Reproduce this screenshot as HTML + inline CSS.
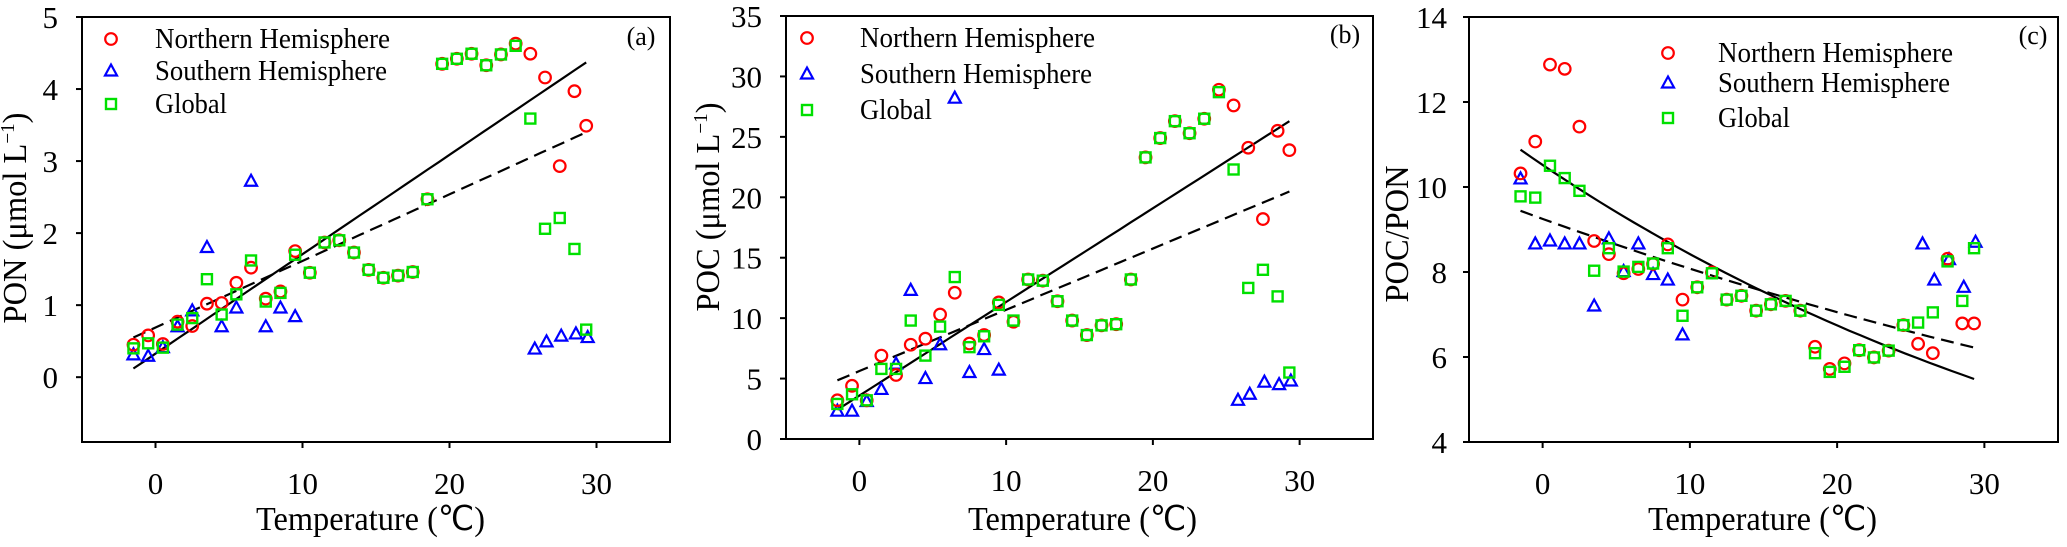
<!DOCTYPE html>
<html><head><meta charset="utf-8"><style>
html,body{margin:0;padding:0;background:#fff;}
svg, svg text{font-family:"Liberation Serif","Times New Roman",Times,serif;}
</style></head><body>
<svg id="fig" width="2067" height="542" viewBox="0 0 2067 542" xmlns="http://www.w3.org/2000/svg" font-family="'Liberation Serif', 'Times New Roman', serif">
<rect x="0" y="0" width="2067" height="542" fill="#fff"/>
</svg>
<script>
// ---- shared temperature categories ----
const tempsFull = [-1.5,-0.5,0.5,1.5,2.5,3.5,4.5,5.5,6.5,7.5,8.5,9.5,10.5,11.5,12.5,13.5,14.5,15.5,16.5,17.5,18.5,19.5,20.5,21.5,22.5,23.5,24.5,25.5,26.5,27.5,28.5,29.3];
const tempsSouth = [-1.5,-0.5,0.5,1.5,2.5,3.5,4.5,5.5,6.5,7.5,8.5,9.5,25.8,26.6,27.6,28.6,29.4];
const xTicks = [0,10,20,30];

// ---- panel a: PON ----
const ponNorth = [0.45,0.58,0.46,0.77,0.71,1.02,1.03,1.31,1.52,1.09,1.19,1.75,1.45,1.87,1.90,1.73,1.49,1.38,1.41,1.46,2.47,4.35,4.42,4.49,4.33,4.48,4.63,4.49,4.16,2.93,3.97,3.49];
const ponGlobal = [0.40,0.47,0.41,0.73,0.82,1.36,0.87,1.15,1.62,1.05,1.17,1.70,1.45,1.87,1.90,1.73,1.49,1.38,1.41,1.46,2.47,4.35,4.42,4.49,4.33,4.48,4.60,3.59,2.06,2.21,1.78,0.66];
const ponSouth = [0.31,0.29,0.41,0.70,0.92,1.80,0.70,0.96,2.72,0.70,0.96,0.84,0.39,0.49,0.57,0.60,0.55];
const ponYTicks = [0,1,2,3,4,5];
const ponFitSolid = [0.327,0.138];   // intercept, slope
const ponFitDashed = [0.689,0.0925];

// ---- panel b: POC ----
const pocNorth = [3.2,4.4,3.2,6.9,5.3,7.8,8.3,10.3,12.1,7.9,8.6,11.3,9.7,13.2,13.1,11.4,9.8,8.6,9.4,9.5,13.2,23.3,24.9,26.3,25.3,26.5,28.9,27.6,24.1,18.2,25.5,23.9];
const pocGlobal = [2.9,3.7,3.2,5.8,5.8,9.8,6.9,9.3,13.4,7.6,8.5,11.1,9.8,13.2,13.1,11.4,9.8,8.6,9.4,9.5,13.2,23.3,24.9,26.3,25.3,26.5,28.7,22.3,12.5,14.0,11.8,5.5];
const pocSouth = [2.3,2.3,3.1,4.1,6.2,12.3,5.0,7.8,28.2,5.5,7.4,5.7,3.2,3.7,4.7,4.5,4.8];
const pocYTicks = [0,5,10,15,20,25,30,35];
const pocFitSolid = [3.59,0.775];
const pocFitDashed = [5.62,0.507];

// ---- panel c: POC/PON ----
const ratioNorth = [10.32,11.07,12.88,12.78,11.42,8.73,8.42,7.97,8.07,8.19,8.65,7.35,7.64,7.99,7.35,7.44,7.09,7.24,7.32,7.09,6.24,5.72,5.85,6.16,5.99,6.15,6.75,6.31,6.09,8.31,6.79,6.79];
const ratioGlobal = [9.78,9.75,10.50,10.21,9.91,8.03,8.56,8.01,8.12,8.20,8.56,6.97,7.64,7.97,7.35,7.44,7.09,7.24,7.32,7.09,6.09,5.65,5.77,6.16,5.99,6.15,6.75,6.81,7.05,8.25,7.32,8.56];
const ratioSouth = [10.19,8.66,8.73,8.66,8.66,7.20,8.78,8.01,8.66,7.94,7.81,6.52,8.66,7.81,8.29,7.64,8.70];
const ratioYTicks = [4,6,8,10,12,14];
const ratioFitSolid = [10.52,-0.02224];  // a*exp(b*T)
const ratioFitDashed = [9.25,-0.01354];

const NS='http://www.w3.org/2000/svg';
const FONT="'Liberation Serif', 'Times New Roman', serif";
const svg=document.getElementById('fig');
function mk(tag,attrs,parent){const e=document.createElementNS(NS,tag);for(const k in attrs)e.setAttribute(k,attrs[k]);if(tag==='text')e.setAttribute('font-family',FONT);(parent||svg).appendChild(e);return e;}

function panel(cfg){
  const g=mk('g',{});
  
  
  const L=cfg.left,R=cfg.right,T=cfg.top,B=cfg.bottom;
  const sx=v=>L+(v-(-5))/(40)*(R-L);
  const sy=v=>B-(v-cfg.ymin)/(cfg.ymax-cfg.ymin)*(B-T);
  const box=mk('rect',{x:L,y:T,width:R-L,height:B-T,fill:'none',stroke:'#000','stroke-width':2},g);
  
  
  xTicks.forEach(t=>{
    const x=sx(t);
    const tk=mk('line',{x1:x,y1:B,x2:x,y2:B+6,stroke:'#000','stroke-width':2},g);
    
    
    const tl=mk('text',{x:x,y:B+52,'font-size':31,'text-anchor':'middle'},g);
    tl.textContent=t;
    
    
  });
  cfg.yticks.forEach(t=>{
    const y=sy(t);
    const tk=mk('line',{x1:L-6,y1:y,x2:L,y2:y,stroke:'#000','stroke-width':2},g);
    
    
    const tl=mk('text',{x:cfg.ylabRight,y:y+11,'font-size':31,'text-anchor':'end'},g);
    tl.textContent=t;
    
    
  });
  const xt=mk('text',{x:cfg.xtitleX-115,y:530,'font-size':34,textLength:229,lengthAdjust:'spacingAndGlyphs'},g);
  xt.textContent='Temperature (℃)';
  
  
  const yt=mk('text',{x:-cfg.ytitleLen/2,y:0,'font-size':34,textLength:cfg.ytitleLen,lengthAdjust:'spacingAndGlyphs',transform:`translate(${cfg.ytitleX},${cfg.ytitleY}) rotate(-90)`},g);
  yt.innerHTML=cfg.ytitle;
  
  
  const fit=(p,tt)=>cfg.exp?p[0]*Math.exp(p[1]*tt):p[0]+p[1]*tt;
  [[cfg.fitSolid,null,'solid'],[cfg.fitDashed,'13 7','dashed']].forEach(([p,dash,nm])=>{
    let d='';
    for(let i=0;i<=40;i++){const tt=-1.5+i*(29.3+1.5)/40;d+=(i?'L':'M')+sx(tt).toFixed(1)+','+sy(fit(p,tt)).toFixed(1);}
    const a={d:d,fill:'none',stroke:'#000','stroke-width':2.2};
    if(dash)a['stroke-dasharray']=dash;
    const pth=mk('path',a,g);
    
    
  });
  const tri=(x,y)=>`${x},${y-6.5} ${x+6},${y+4.5} ${x-6},${y+4.5}`;
  const drawMarker=(type,x,y,parent)=>{
    if(type==='s')return mk('polygon',{points:tri(x,y),fill:'none',stroke:'#0000ff','stroke-width':2.2},parent);
    if(type==='n')return mk('circle',{cx:x,cy:y,r:5.8,fill:'none',stroke:'#ff0000','stroke-width':2.2},parent);
    return mk('rect',{x:x-5,y:y-5,width:10,height:10,fill:'none',stroke:'#00e000','stroke-width':2.4},parent);
  };
  tempsSouth.forEach((t,i)=>{const m=drawMarker('s',sx(t),sy(cfg.south[i]),g);
    
    });
  tempsFull.forEach((t,i)=>{const m=drawMarker('n',sx(t),sy(cfg.north[i]),g);
    
    });
  tempsFull.forEach((t,i)=>{const m=drawMarker('g',sx(t),sy(cfg.glob[i]),g);
    
    });
  const lg=mk('g',{},g);
  
  
  const names=[['n','Northern Hemisphere',235],['s','Southern Hemisphere',232],['g','Global',72]];
  names.forEach((n,i)=>{
    const y=cfg.legY[i];
    const m=drawMarker(n[0],cfg.legMX,y,lg);
    
    
    const tx=mk('text',{x:cfg.legTX,y:y+9,'font-size':28,textLength:n[2],lengthAdjust:'spacingAndGlyphs'},lg);
    tx.textContent=n[1];
    
    
  });
  const pl=mk('text',{x:cfg.plX,y:cfg.plY,'font-size':26,'text-anchor':'middle'},g);
  pl.textContent='('+cfg.id+')';
  
  
}

panel({id:'a',left:82,right:670,top:17,bottom:442,ymin:-0.9,ymax:5,yticks:ponYTicks,ylabRight:58,
  north:ponNorth,glob:ponGlobal,south:ponSouth,fitSolid:ponFitSolid,fitDashed:ponFitDashed,
  xtitleX:371,ytitleX:26,ytitleY:218,ytitleLen:211,ytitle:'PON (μmol L<tspan font-size="20" dy="-12">−1</tspan><tspan dy="12">)</tspan>',
  legMX:111,legTX:155,legY:[39,71,104],plX:641,plY:45});
panel({id:'b',left:786,right:1373,top:16,bottom:439,ymin:0,ymax:35,yticks:pocYTicks,ylabRight:762,
  north:pocNorth,glob:pocGlobal,south:pocSouth,fitSolid:pocFitSolid,fitDashed:pocFitDashed,
  xtitleX:1083,ytitleX:719,ytitleY:207,ytitleLen:209,ytitle:'POC (μmol L<tspan font-size="20" dy="-12">−1</tspan><tspan dy="12">)</tspan>',
  legMX:807,legTX:860,legY:[38,74,110],plX:1345,plY:43});
panel({id:'c',left:1469,right:2058,top:17,bottom:442,ymin:4,ymax:14,yticks:ratioYTicks,ylabRight:1447,exp:true,
  north:ratioNorth,glob:ratioGlobal,south:ratioSouth,fitSolid:ratioFitSolid,fitDashed:ratioFitDashed,
  xtitleX:1763,ytitleX:1408,ytitleY:234,ytitleLen:137,ytitle:'POC/PON',
  legMX:1668,legTX:1718,legY:[53,83,118],plX:2033,plY:44});
</script>
</body></html>
